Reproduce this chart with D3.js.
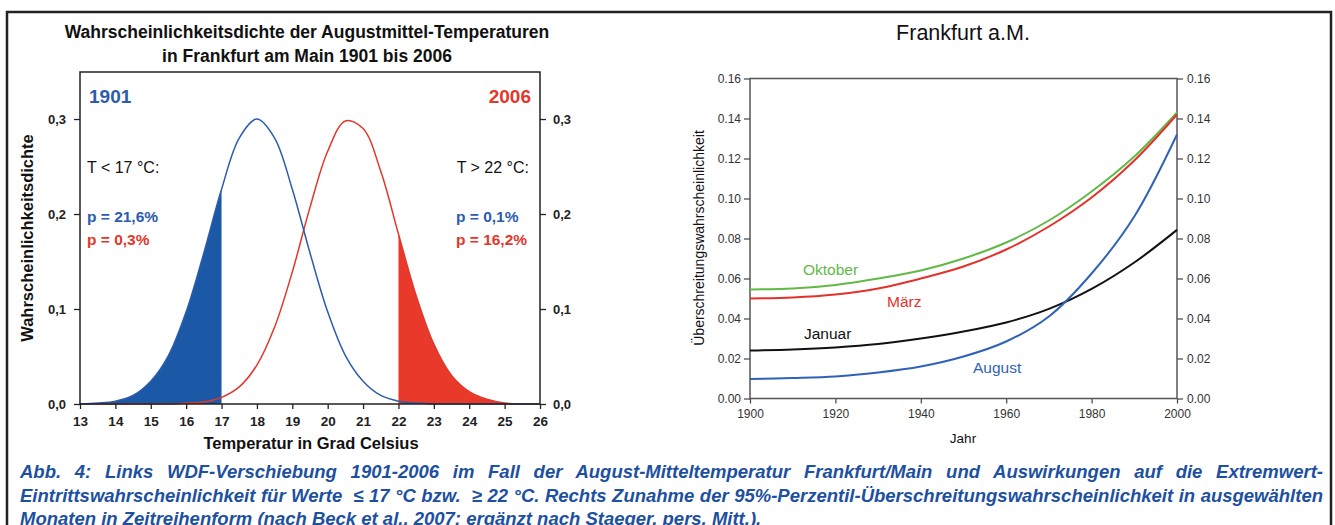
<!DOCTYPE html>
<html>
<head>
<meta charset="utf-8">
<script src="https://cdn.jsdelivr.net/npm/d3@7"></script>
<style>
body { margin: 0; background: #fff; }
svg { display: block; }
text { font-family: Arial, "Liberation Sans", sans-serif; }
</style>
</head>
<body>
<svg id="chart" width="1335" height="525"></svg>
<script>
var tempX = [13, 13.5, 14, 14.5, 15, 15.5, 16, 16.5, 17, 17.5, 18, 18.5, 19, 19.5,
	20, 20.5, 21, 21.5, 22, 22.5, 23, 23.5, 24, 24.5, 25, 25.5, 26];
var density1901 = [0.000, 0.001, 0.003, 0.009, 0.024, 0.051, 0.097, 0.159, 0.226, 0.280, 0.300, 0.280, 0.226, 0.159,
	0.097, 0.051, 0.024, 0.009, 0.003, 0.001, 0.000, 0.000, 0.000, 0.000, 0.000, 0.000, 0.000];
var density2006 = [0.000, 0.000, 0.000, 0.000, 0.000, 0.000, 0.001, 0.002, 0.007, 0.018, 0.041, 0.081, 0.139, 0.207,
	0.266, 0.298, 0.290, 0.245, 0.179, 0.114, 0.063, 0.030, 0.013, 0.005, 0.001, 0.000, 0.000];
var tempTicks = [13, 14, 15, 16, 17, 18, 19, 20, 21, 22, 23, 24, 25, 26];
var densityTicks = [0, 0.1, 0.2, 0.3];

// ---- rechts: Überschreitungswahrscheinlichkeit je Jahrzehnt ----
var years = [1900, 1910, 1920, 1930, 1940, 1950, 1960, 1970, 1980, 1990, 2000];
var oktober = [0.0545, 0.0550, 0.0568, 0.0600, 0.0640, 0.0700, 0.0780, 0.0890, 0.1035, 0.1210, 0.1430];
var maerz   = [0.0500, 0.0505, 0.0520, 0.0550, 0.0600, 0.0660, 0.0745, 0.0860, 0.1005, 0.1190, 0.1420];
var januar  = [0.0240, 0.0245, 0.0255, 0.0272, 0.0300, 0.0335, 0.0380, 0.0448, 0.0548, 0.0680, 0.0843];
var august  = [0.0097, 0.0102, 0.0110, 0.0130, 0.0160, 0.0210, 0.0285, 0.0410, 0.0625, 0.0910, 0.1320];
var yearTicks = [1900, 1920, 1940, 1960, 1980, 2000];
var probTicks = [0, 0.02, 0.04, 0.06, 0.08, 0.10, 0.12, 0.14, 0.16];

var captionLines = [
	"Abb. 4: Links WDF-Verschiebung 1901-2006 im Fall der August-Mitteltemperatur Frankfurt/Main und Auswirkungen auf die Extremwert-",
	"Eintrittswahrscheinlichkeit für Werte  \u2264 17 °C bzw.  \u2265 22 °C. Rechts Zunahme der 95%-Perzentil-Überschreitungswahrscheinlichkeit in ausgewählten",
	"Monaten in Zeitreihenform (nach Beck et al., 2007; ergänzt nach Staeger, pers. Mitt.)."
];

var BLUE = "#2b5cae", BLUE_FILL = "#1b58a5", RED = "#e2372b", RED_FILL = "#e8392b";

var svg = d3.select("#chart");
svg.append("rect").attr("width", 1335).attr("height", 525).attr("fill", "#fff");

// Rahmen der Seite
svg.append("path")
	.attr("d", "M7,530V12H1331V530")
	.attr("fill", "none").attr("stroke", "#222").attr("stroke-width", 2.5);

drawLeft();
drawRight();
drawCaption();

function commaFmt(f) {
	return function(d) { return d3.format(f)(d).replace(".", ","); };
}

function drawLeft() {
	var x = d3.scaleLinear().domain([13, 26]).range([80, 540]);
	var y = d3.scaleLinear().domain([0, 0.3495]).range([404, 72]);
	var g = svg.append("g");

	g.append("text").attr("x", 307).attr("y", 38).attr("text-anchor", "middle")
		.attr("font-size", 17.5).attr("font-weight", "bold").attr("fill", "#111")
		.text("Wahrscheinlichkeitsdichte der Augustmittel-Temperaturen");
	g.append("text").attr("x", 307).attr("y", 62).attr("text-anchor", "middle")
		.attr("font-size", 17.5).attr("font-weight", "bold").attr("fill", "#111")
		.text("in Frankfurt am Main 1901 bis 2006");

	var pts1 = tempX.map(function(t, i) { return [t, density1901[i]]; });
	var pts2 = tempX.map(function(t, i) { return [t, density2006[i]]; });

	var area = d3.area().curve(d3.curveCatmullRom)
		.x(function(d) { return x(d[0]); })
		.y0(y(0)).y1(function(d) { return y(d[1]); });
	var line = d3.line().curve(d3.curveCatmullRom)
		.x(function(d) { return x(d[0]); })
		.y(function(d) { return y(d[1]); });

	var defs = svg.append("defs");
	defs.append("clipPath").attr("id", "clipLow").append("rect")
		.attr("x", x(13)).attr("y", 0).attr("width", x(17) - x(13)).attr("height", 525);
	defs.append("clipPath").attr("id", "clipHigh").append("rect")
		.attr("x", x(22)).attr("y", 0).attr("width", x(26) - x(22)).attr("height", 525);

	g.append("path").datum(pts1).attr("d", area).attr("fill", BLUE_FILL).attr("clip-path", "url(#clipLow)");
	g.append("path").datum(pts2).attr("d", area).attr("fill", RED_FILL).attr("clip-path", "url(#clipHigh)");
	g.append("path").datum(pts2).attr("d", line).attr("fill", "none").attr("stroke", RED).attr("stroke-width", 1.5);
	g.append("path").datum(pts1).attr("d", line).attr("fill", "none").attr("stroke", BLUE).attr("stroke-width", 1.5);

	// Achsen
	var ax = g.append("g").attr("transform", "translate(0,404)")
		.call(d3.axisBottom(x).tickValues(tempTicks).tickSize(5).tickPadding(7).tickFormat(d3.format("d")));
	var al = g.append("g").attr("transform", "translate(80,0)")
		.call(d3.axisLeft(y).tickValues(densityTicks).tickSize(6).tickPadding(8).tickFormat(commaFmt(".1f")));
	var ar = g.append("g").attr("transform", "translate(540,0)")
		.call(d3.axisRight(y).tickValues(densityTicks).tickSize(6).tickPadding(7).tickFormat(commaFmt(".1f")));
	[ax, al, ar].forEach(function(a) {
		a.select(".domain").remove();
		a.selectAll("line").attr("stroke", "#222").attr("stroke-width", 1.3);
		a.selectAll("text").attr("font-size", 13).attr("font-weight", "bold").attr("fill", "#222")
			.style("font-family", "Arial, 'Liberation Sans', sans-serif");
	});
	ax.selectAll("text").attr("font-size", 13.5);
	g.append("rect").attr("x", 80).attr("y", 72).attr("width", 460).attr("height", 332)
		.attr("fill", "none").attr("stroke", "#222").attr("stroke-width", 1.5);

	g.append("text").attr("x", 311).attr("y", 449).attr("text-anchor", "middle")
		.attr("font-size", 16.5).attr("font-weight", "bold").attr("fill", "#111")
		.text("Temperatur in Grad Celsius");
	g.append("text").attr("transform", "translate(33,238) rotate(-90)").attr("text-anchor", "middle")
		.attr("font-size", 16.5).attr("font-weight", "bold").attr("fill", "#111")
		.text("Wahrscheinlichkeitsdichte");

	// Beschriftungen im Diagramm
	var notes = [
		{ t: "1901", x: 89, y: 103, c: BLUE, s: 19, a: "start" },
		{ t: "2006", x: 531, y: 103, c: RED, s: 19, a: "end" },
		{ t: "T < 17 °C:", x: 87, y: 173, c: "#111", s: 16, a: "start" },
		{ t: "p = 21,6%", x: 87, y: 222, c: BLUE, s: 15.5, a: "start" },
		{ t: "p = 0,3%", x: 87, y: 245, c: RED, s: 15.5, a: "start" },
		{ t: "T > 22 °C:", x: 529, y: 173, c: "#111", s: 16, a: "end" },
		{ t: "p = 0,1%", x: 456, y: 222, c: BLUE, s: 15.5, a: "start" },
		{ t: "p = 16,2%", x: 456, y: 245, c: RED, s: 15.5, a: "start" }
	];
	g.selectAll(".note").data(notes).enter().append("text")
		.attr("class", "note")
		.attr("x", function(d) { return d.x; }).attr("y", function(d) { return d.y; })
		.attr("text-anchor", function(d) { return d.a; })
		.attr("font-size", function(d) { return d.s; })
		.attr("font-weight", function(d) { return d.c === "#111" ? "normal" : "bold"; })
		.attr("fill", function(d) { return d.c; })
		.text(function(d) { return d.t; });
}

function drawRight() {
	var x = d3.scaleLinear().domain([1900, 2000]).range([750, 1177]);
	var y = d3.scaleLinear().domain([0, 0.16]).range([398.5, 78.5]);
	var g = svg.append("g");

	g.append("text").attr("x", 963).attr("y", 40).attr("text-anchor", "middle")
		.attr("font-size", 21.5).attr("fill", "#111").text("Frankfurt a.M.");

	var series = [
		{ name: "Oktober", v: oktober, c: "#62b946", lx: 803, ly: 275 },
		{ name: "März", v: maerz, c: "#e4312a", lx: 887, ly: 307 },
		{ name: "Januar", v: januar, c: "#111111", lx: 804, ly: 339 },
		{ name: "August", v: august, c: "#2f63b9", lx: 973, ly: 373 }
	];
	var line = d3.line().curve(d3.curveCatmullRom.alpha(0.5))
		.x(function(d, i) { return x(years[i]); })
		.y(function(d) { return y(d); });

	var ax = g.append("g").attr("transform", "translate(0,398.5)")
		.call(d3.axisBottom(x).tickValues(yearTicks).tickSize(5).tickPadding(6).tickFormat(d3.format("d")));
	var al = g.append("g").attr("transform", "translate(750,0)")
		.call(d3.axisLeft(y).tickValues(probTicks).tickSize(6).tickPadding(3).tickFormat(d3.format(".2f")));
	var ar = g.append("g").attr("transform", "translate(1177,0)")
		.call(d3.axisRight(y).tickValues(probTicks).tickSize(6).tickPadding(4).tickFormat(d3.format(".2f")));
	[ax, al, ar].forEach(function(a) {
		a.select(".domain").remove();
		a.selectAll("line").attr("stroke", "#444").attr("stroke-width", 1.2);
		a.selectAll("text").attr("font-size", 12).attr("fill", "#333")
			.style("font-family", "Arial, 'Liberation Sans', sans-serif");
	});
	g.append("rect").attr("x", 750).attr("y", 78.5).attr("width", 427).attr("height", 320)
		.attr("fill", "none").attr("stroke", "#555").attr("stroke-width", 1.5);

	g.selectAll(".series").data(series).enter().append("path")
		.attr("class", "series")
		.attr("d", function(d) { return line(d.v); })
		.attr("fill", "none")
		.attr("stroke", function(d) { return d.c; })
		.attr("stroke-width", 2);

	g.selectAll(".slabel").data(series).enter().append("text")
		.attr("class", "slabel")
		.attr("x", function(d) { return d.lx; }).attr("y", function(d) { return d.ly; })
		.attr("font-size", 15.5).attr("fill", function(d) { return d.c; })
		.text(function(d) { return d.name; });

	g.append("text").attr("x", 963).attr("y", 443).attr("text-anchor", "middle")
		.attr("font-size", 13.5).attr("fill", "#111").text("Jahr");
	g.append("text").attr("transform", "translate(704,238) rotate(-90)").attr("text-anchor", "middle")
		.attr("font-size", 14).attr("fill", "#111").text("Überschreitungswahrscheinlichkeit");
}

function drawCaption() {
	var left = 20, right = 1323;
	var t = svg.append("g").selectAll("text").data(captionLines).enter().append("text")
		.attr("x", left)
		.attr("y", function(d, i) { return 478 + i * 23.5; })
		.attr("font-size", 18.5).attr("font-weight", "bold").attr("font-style", "italic")
		.attr("fill", "#1d50a0")
		.style("white-space", "pre")
		.text(function(d) { return d; });
	// Blocksatz für die ersten beiden Zeilen
	t.each(function(d, i) {
		if (i === captionLines.length - 1) return;
		var w = this.getComputedTextLength();
		var gaps = d.split(" ").length - 1;
		d3.select(this).attr("word-spacing", (right - left - w) / gaps);
	});
}
</script>
</body>
</html>
